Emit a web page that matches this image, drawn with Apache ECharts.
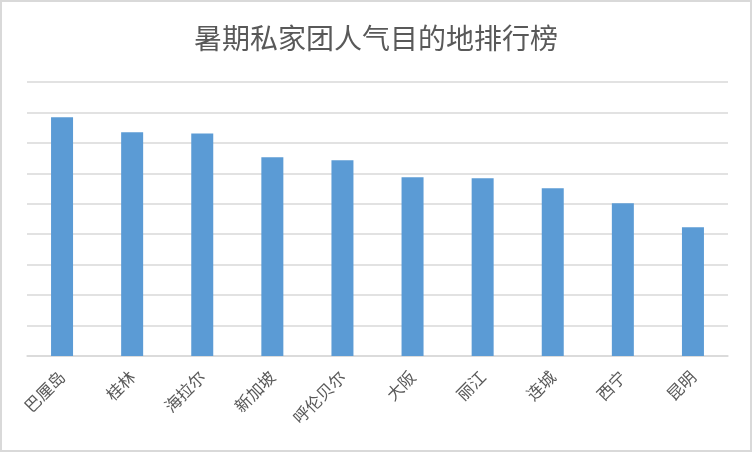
<!DOCTYPE html>
<html lang="zh">
<head>
    <meta charset="UTF-8">
    <title>暑期私家团人气目的地排行榜</title>
    <style>
        html, body { margin: 0; padding: 0; background: #fff; }
        #main {
            width: 752px;
            height: 452px;
            box-sizing: border-box;
            border: 2px solid #d9d9d9;
        }
    </style>
    <script src="https://cdn.jsdelivr.net/npm/echarts@6/dist/echarts.min.js"></script>
</head>
<body>
<div id="main"></div>
<script>
    // 目的地和人气值（无刻度标签，数值按网格估读）
    var cities = ['巴厘岛', '桂林', '海拉尔', '新加坡', '呼伦贝尔', '大阪', '丽江', '连城', '西宁', '昆明'];
    var heat = [7.84, 7.35, 7.31, 6.53, 6.43, 5.87, 5.84, 5.51, 5.02, 4.23];

    var chart = echarts.init(document.getElementById('main'));
    var option = {
        title: {
            text: '暑期私家团人气目的地排行榜',
            left: 'center',
            top: 17,
            textStyle: {
                color: '#595959',
                fontSize: 28,
                fontWeight: 'normal',
                fontFamily: 'Noto Sans CJK SC'
            }
        },
        grid: {
            left: 25,
            right: 22,
            top: 80,
            bottom: 94
        },
        xAxis: {
            type: 'category',
            data: cities,
            axisTick: { show: false },
            axisLine: { lineStyle: { color: '#d9d9d9', width: 1.5 } },
            axisLabel: {
                rotate: 45,
                interval: 0,
                margin: 18,
                color: '#595959',
                fontSize: 16.5,
                fontFamily: 'Noto Sans CJK SC'
            }
        },
        yAxis: {
            type: 'value',
            min: 0,
            max: 9,
            interval: 1,
            axisLabel: { show: false },
            axisLine: { show: false },
            axisTick: { show: false },
            splitLine: { lineStyle: { color: '#d9d9d9', width: 1.5 } }
        },
        series: [
            {
                type: 'bar',
                data: heat,
                barWidth: 22,
                itemStyle: { color: '#5b9bd5' }
            }
        ]
    };
    chart.setOption(option);
</script>
</body>
</html>
